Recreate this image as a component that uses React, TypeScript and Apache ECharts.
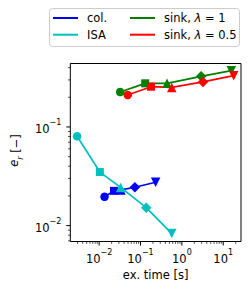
import React, { useEffect, useRef } from 'react';
import * as echarts from 'echarts';

const FONT = 'DejaVu Sans';

// execution time [s] and error e_r for each method
const colTime = [0.0135, 0.0229, 0.0337, 0.073, 0.232];
const colErr = [0.0196, 0.0225, 0.023, 0.0245, 0.0275];
const isaTime = [0.00293, 0.0104, 0.0331, 0.1375, 0.57];
const isaErr = [0.0805, 0.0349, 0.0244, 0.0152, 0.0083];
const sink1Time = [0.0322, 0.13, 0.438, 2.92, 15.7];
const sink1Err = [0.226, 0.277, 0.277, 0.326, 0.372];
const sink05Time = [0.0491, 0.179, 0.57, 3.24, 17.9];
const sink05Err = [0.211, 0.256, 0.252, 0.286, 0.331];

const markers = ['circle', 'rect', 'triangle', 'diamond', 'triangleDown'];
const seriesNames = ['col.', 'ISA', 'sink, λ=1', 'sink, λ=0.5'];
const seriesColors = ['#0000FF', '#00BFBF', '#008000', '#FF0000'];

const X_MIN = 0.00201;
const X_MAX = 26.9;
const Y_MIN = 0.0069;
const Y_MAX = 0.44;

const xMajorTicks = [0.01, 0.1, 1, 10];
const yMajorTicks = [0.01, 0.1];
const minorMultipliers = [2, 3, 4, 5, 6, 7, 8, 9];
const xDecades = [0.001, 0.01, 0.1, 1, 10];
const yDecades = [0.001, 0.01, 0.1];

const symbolSizes: Record<string, any> = {
  circle: 8.5,
  rect: 8,
  triangle: 9.5,
  diamond: 10.5,
  triangleDown: 9.5,
};

function mkData(xs: number[], ys: number[]) {
  return xs.map((x, i) => {
    const m = markers[i];
    return {
      value: [x, ys[i]],
      symbol: m === 'triangleDown' ? 'triangle' : m,
      symbolRotate: m === 'triangleDown' ? 180 : 0,
      symbolSize: symbolSizes[m],
    };
  });
}

function tickData() {
  const out: number[][] = [];
  const inX = (v: number) => v >= X_MIN * 0.999 && v <= X_MAX;
  const inY = (v: number) => v >= Y_MIN && v <= Y_MAX;
  xMajorTicks.forEach((v) => inX(v) && out.push([v, 0.1, 0]));
  xDecades.forEach((d) =>
    minorMultipliers.forEach((k) => {
      const v = d * k;
      if (inX(v)) out.push([v, 0.1, 1]);
    })
  );
  yMajorTicks.forEach((v) => inY(v) && out.push([1, v, 2]));
  yDecades.forEach((d) =>
    minorMultipliers.forEach((k) => {
      const v = d * k;
      if (inY(v)) out.push([1, v, 3]);
    })
  );
  return out;
}

const supLabel = (v: number) => {
  const e = Math.round(Math.log10(v));
  const s = e < 0 ? '\u2212' + -e : String(e);
  return `{b|10}{s|${s}}`;
};

const labelRich = {
  b: { fontSize: 11.5, fontFamily: FONT, color: '#000', lineHeight: 16, verticalAlign: 'bottom' },
  s: { fontSize: 8, fontFamily: FONT, color: '#000', verticalAlign: 'top' },
};

export default function App() {
  const ref = useRef<HTMLDivElement>(null);
  useEffect(() => {
    if (!ref.current) return;
    const chart = echarts.init(ref.current, null, { renderer: 'svg' });
    const allX = [colTime, isaTime, sink1Time, sink05Time];
    const allY = [colErr, isaErr, sink1Err, sink05Err];
    const lineSeries = seriesNames.map((name, i) => ({
      type: 'line',
      name,
      data: mkData(allX[i], allY[i]),
      lineStyle: { color: seriesColors[i], width: 1.7 },
      itemStyle: { color: seriesColors[i] },
      showSymbol: true,
      emphasis: { disabled: true },
      silent: true,
    }));
    const legendCommon = {
      orient: 'vertical',
      top: 11,
      itemWidth: 25,
      itemHeight: 2,
      itemGap: 2.7,
      icon: 'rect',
      padding: 0,
      z: 5,
      selectedMode: false,
      formatter: (name: string) => name.replace('λ=', '{it|λ} = '),
      textStyle: {
        fontSize: 11.5,
        fontFamily: FONT,
        color: '#000',
        lineHeight: 14,
        padding: [0, 0, 0, 4],
        rich: {
          it: { fontSize: 11.5, fontFamily: FONT, fontStyle: 'italic', color: '#000' },
        },
      },
    };
    chart.setOption({
      animation: false,
      grid: {
        left: 61,
        top: 63.5,
        right: 9,
        bottom: 46.5,
        show: true,
        borderColor: '#000',
        borderWidth: 1,
        backgroundColor: 'transparent',
      },
      legend: [
        { ...legendCommon, left: 53, data: [seriesNames[0], seriesNames[1]] },
        { ...legendCommon, left: 130, data: [seriesNames[2], seriesNames[3]] },
      ],
      graphic: [
        {
          type: 'rect',
          z: 1,
          shape: { x: 49.5, y: 8.5, width: 190, height: 38, r: 3 },
          style: { fill: 'rgba(255,255,255,0.8)', stroke: '#cccccc', lineWidth: 1 },
        },
      ],
      xAxis: {
        type: 'log',
        min: X_MIN,
        max: X_MAX,
        splitNumber: 5,
        axisLine: { show: false },
        axisTick: { show: false },
        splitLine: { show: false },
        axisLabel: {
          margin: 7,
          showMinLabel: false,
          showMaxLabel: false,
          formatter: supLabel,
          rich: labelRich,
        },
        name: 'ex. time [s]',
        nameLocation: 'middle',
        nameGap: 24,
        nameTextStyle: { fontSize: 11.5, fontFamily: FONT, color: '#000' },
      },
      yAxis: {
        type: 'log',
        min: Y_MIN,
        max: Y_MAX,
        splitNumber: 2,
        axisLine: { show: false },
        axisTick: { show: false },
        splitLine: { show: false },
        axisLabel: {
          margin: 9,
          showMinLabel: false,
          showMaxLabel: false,
          formatter: supLabel,
          rich: labelRich,
        },
        name: '{i|e}{sub|r} [\u2212]',
        nameLocation: 'middle',
        nameRotate: 90,
        nameGap: 44,
        nameTextStyle: {
          fontSize: 11.5,
          fontFamily: FONT,
          color: '#000',
          padding: [0, 0, 0, 4],
          rich: {
            i: { fontSize: 11.5, fontFamily: FONT, fontStyle: 'italic', color: '#000', lineHeight: 16, verticalAlign: 'top' },
            sub: { fontSize: 8, fontFamily: FONT, fontStyle: 'italic', color: '#000', verticalAlign: 'bottom' },
          },
        },
      },
      series: [
        ...lineSeries,
        {
          type: 'custom',
          silent: true,
          clip: false,
          encode: { x: 0, y: 1 },
          data: tickData(),
          z: 10,
          renderItem: (params: any, api: any) => {
            const cs = params.coordSys;
            const kind = api.value(2);
            const major = kind === 0 || kind === 2;
            const len = major ? 4 : 2.3;
            const lw = major ? 1 : 0.7;
            if (kind <= 1) {
              const px = api.coord([api.value(0), 0.1])[0];
              const b = cs.y + cs.height;
              return {
                type: 'line',
                shape: { x1: px, y1: b, x2: px, y2: b + len },
                style: { stroke: '#000', lineWidth: lw },
              };
            }
            const py = api.coord([1, api.value(1)])[1];
            return {
              type: 'line',
              shape: { x1: cs.x, y1: py, x2: cs.x - len, y2: py },
              style: { stroke: '#000', lineWidth: lw },
            };
          },
        },
      ],
    });
    return () => chart.dispose();
  }, []);
  return (
    <div
      ref={ref}
      style={{ width: 250, height: 288, position: 'absolute', left: 0, top: 0 }}
    />
  );
}
